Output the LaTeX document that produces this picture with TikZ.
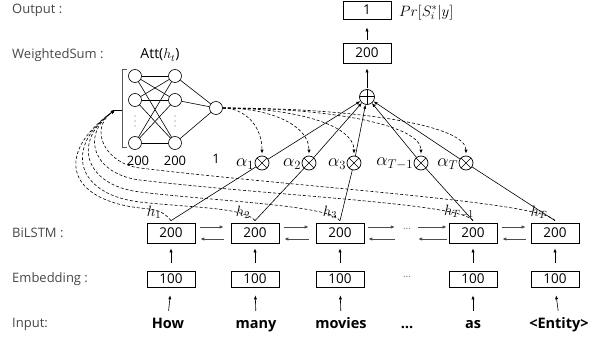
\RequirePackage{fix-cm}
\documentclass[tikz,border=0pt]{standalone}
\usepackage{fontspec}
\setmainfont{Open Sans}
\usetikzlibrary{arrows.meta}
\begin{document}
\begin{tikzpicture}[x=1pt,y=-1pt,
  lab/.style={anchor=west, inner sep=0pt, text=black!72, font=\fontsize{13}{15}\selectfont},
  box/.style={draw, line width=0.7pt, minimum width=48pt, minimum height=20pt, inner sep=0pt, font=\fontsize{13.5}{15}\selectfont},
  ebox/.style={box, minimum height=16pt},
  word/.style={inner sep=0pt, font=\fontsize{14.5}{16}\selectfont\bfseries, text height=11pt, text depth=3pt},
  neuron/.style={circle, draw, minimum size=13pt, inner sep=0pt, line width=0.6pt},
  mult/.style={circle, draw, minimum size=14pt, inner sep=0pt, line width=0.7pt,
    path picture={\draw[line width=0.7pt] (path picture bounding box.north west) -- (path picture bounding box.south east) (path picture bounding box.north east) -- (path picture bounding box.south west);}},
  plusnode/.style={circle, draw, minimum size=15pt, inner sep=0pt, line width=0.7pt,
    path picture={\draw[line width=1pt] (path picture bounding box.north) -- (path picture bounding box.south) (path picture bounding box.west) -- (path picture bounding box.east);}},
  arr/.style={-{Latex[length=4pt,width=3.2pt]}, line width=0.6pt},
  harr/.style={-{Latex[length=4pt,width=3.5pt]}, line width=0.9pt, black!70},
  dsh/.style={dash pattern=on 3pt off 2pt, line width=0.6pt},
  conn/.style={line width=0.6pt},
  mathlab/.style={inner sep=0pt, font=\fontsize{18}{20}\selectfont},
  hlab/.style={inner sep=0pt, font=\fontsize{15}{17}\selectfont},
  small/.style={inner sep=0pt, font=\fontsize{13}{15}\selectfont},
  dotsg/.style={inner sep=0pt, text=black!55, font=\fontsize{10}{12}\selectfont},
]
\useasboundingbox (0,0) rectangle (603,342);

% left labels
\node[lab] (lOut) at (12,10) {Output :};
\node[lab] (lWS) at (12,55) {WeightedSum :};
\node[lab] (lBi) at (12,233) {BiLSTM :};
\node[lab] (lEm) at (12,279) {Embedding :};
\node[lab] (lIn) at (12,324) {Input:};

% top output part
\node[box, minimum height=18pt] (t1) at (367,10) {1};
\node[box] (t200) at (367,53) {200};
\node[plusnode] (pl) at (367,97) {};
\node[inner sep=0pt, anchor=west, font=\fontsize{15}{17}\selectfont] (pr) at (399,12.5) {$Pr[S_i^*|y]$};
\draw[arr, shorten <=1pt, shorten >=5pt] (pl) -- (t200);
\draw[arr, shorten <=3pt, shorten >=8pt] (t200) -- (t1);

% attention network
\node[small, font=\fontsize{14}{16}\selectfont] (att) at (160,55) {Att($h_t$)};
\node[neuron] (n11) at (135,76) {};
\node[neuron] (n12) at (135,100) {};
\node[neuron] (n13) at (135,143) {};
\node[neuron] (n21) at (175,76) {};
\node[neuron] (n22) at (175,100) {};
\node[neuron] (n23) at (175,143) {};
\node[neuron] (no) at (216,108) {};
\foreach \x in {135,175}
  \foreach \y in {116,121,126}
    \fill[black!55] (\x,\y) circle (0.6pt);
\foreach \a in {n11,n12,n13}
  \foreach \b in {n21,n22,n23}
    \draw[conn] (\a) -- (\b);
\foreach \b in {n21,n22,n23}
  \draw[conn] (\b) -- (no);
\node[small] (c1) at (138,161) {200};
\node[small] (c2) at (175,161) {200};
\node[small] (c3) at (216,159) {1};
\draw[line width=0.9pt, black!65] (127,69) -- (122,69) -- (122,147) -- (127,147);
\coordinate (brk) at (122,110);
\coordinate (inpt) at (115,110);
\draw[conn] (brk) -- (inpt);

% multiply nodes
\node[mult] (m1) at (262,163) {};
\node[mult] (m2) at (309,163) {};
\node[mult] (m3) at (354,163) {};
\node[mult] (m4) at (421,163) {};
\node[mult] (m5) at (466,163) {};
\node[mathlab, anchor=east] (a1) at ([xshift=-0.5pt,yshift=-1pt]m1.west) {$\alpha_1$};
\node[mathlab, anchor=east] (a2) at ([xshift=-0.5pt,yshift=-1pt]m2.west) {$\alpha_2$};
\node[mathlab, anchor=east] (a3) at ([xshift=-0.5pt,yshift=-1pt]m3.west) {$\alpha_3$};
\node[mathlab, anchor=east] (a4) at ([xshift=-0.5pt,yshift=-1pt]m4.west) {$\alpha_{T-1}$};
\node[mathlab, anchor=east] (a5) at ([xshift=-0.5pt,yshift=-1pt]m5.west) {$\alpha_T$};
\foreach \m in {m1,m2,m3,m4,m5}
  \draw[arr] (\m) -- (pl);

% dashed from neuron to multipliers
\draw[dsh, arr, shorten >=2pt] (no.east) .. controls (244,108) and (262,125) .. (m1.north);
\draw[dsh, arr, shorten >=2pt] (no.east) .. controls (270,108) and (309,125) .. (m2.north);
\draw[dsh, arr, shorten >=2pt] (no.east) .. controls (295,108) and (354,125) .. (m3.north);
\draw[dsh, arr, shorten >=2pt] (no.east) .. controls (331,108) and (421,125) .. (m4.north);
\draw[dsh, arr, shorten >=2pt] (no.east) .. controls (356,108) and (466,125) .. (m5.north);

% BiLSTM boxes
\node[box] (b1) at (171,233) {200};
\node[box] (b2) at (255,233) {200};
\node[box] (b3) at (340,233) {200};
\node[box] (b4) at (473,233) {200};
\node[box] (b5) at (555,233) {200};
\node[dotsg] (bd) at (407,229) {…};

% embedding boxes
\node[ebox] (e1) at (171,279) {100};
\node[ebox] (e2) at (255,279) {100};
\node[ebox] (e3) at (340,279) {100};
\node[ebox] (e4) at (473,279) {100};
\node[ebox] (e5) at (555,279) {100};
\node[dotsg] (ed) at (407,277) {…};

% words
\node[word] (w1) at (168,324) {How};
\node[word] (w2) at (256,324) {many};
\node[word] (w3) at (341,324) {movies};
\node[word] (wd) at (407,324) {…};
\node[word] (w4) at (473,324) {as};
\node[word] (w5) at (559,324) {<Entity>};

\foreach \i in {1,...,5} {
  \draw[arr, shorten <=8pt, shorten >=5pt] (e\i.north) -- (b\i.south);
  \draw[arr, shorten <=6pt, shorten >=8pt] (w\i.north) -- (e\i.south);
}

% horizontal BiLSTM arrows
\draw[harr] ([xshift=5pt,yshift=6pt]b1.east) -- ([xshift=-7pt,yshift=6pt]b2.west);
\draw[harr] ([xshift=-7pt,yshift=-6pt]b2.west) -- ([xshift=5pt,yshift=-6pt]b1.east);
\draw[harr] ([xshift=5pt,yshift=6pt]b2.east) -- ([xshift=-7pt,yshift=6pt]b3.west);
\draw[harr] ([xshift=-7pt,yshift=-6pt]b3.west) -- ([xshift=5pt,yshift=-6pt]b2.east);
\draw[harr] ([xshift=4pt,yshift=6pt]b3.east) -- ([xshift=-8pt,yshift=2pt]bd.west);
\draw[harr] ([xshift=-8pt,yshift=-10pt]bd.west) -- ([xshift=4pt,yshift=-6pt]b3.east);
\draw[harr] ([xshift=7pt,yshift=2pt]bd.east) -- ([xshift=-2pt,yshift=6pt]b4.west);
\draw[harr] ([xshift=-2pt,yshift=-6pt]b4.west) -- ([xshift=7pt,yshift=-10pt]bd.east);
\draw[harr] ([xshift=5pt,yshift=6pt]b4.east) -- ([xshift=-5pt,yshift=6pt]b5.west);
\draw[harr] ([xshift=-5pt,yshift=-6pt]b5.west) -- ([xshift=5pt,yshift=-6pt]b4.east);

% h labels
\node[hlab] (h1) at (154,212) {$h_1$};
\node[hlab] (h2) at (243,212) {$h_2$};
\node[hlab] (h3) at (330,212) {$h_3$};
\node[hlab] (h4) at (459,212) {$h_{T-1}$};
\node[hlab] (h5) at (539,212) {$h_T$};

% solid lines from h to multipliers
\draw[conn] ([yshift=2pt]b1.north) -- (m1);
\draw[conn] ([yshift=2pt]b2.north) -- (m2);
\draw[conn] ([yshift=2pt]b3.north) -- (m3);
\draw[conn] ([yshift=2pt]b4.north) -- (m4);
\draw[conn] ([yshift=2pt]b5.north) -- (m5);

% dashed curves from h to attention input
\draw[dsh, arr] ([yshift=2pt]b1.north) .. controls (162,209) and (152.4,209.5) .. (140,208)
   .. controls (66,199.4) and (55,153.2) .. (inpt);
\draw[dsh, arr] ([yshift=2pt]b2.north) .. controls (245,207) and (186,207.5) .. (140,202)
   .. controls (76,194.6) and (63.4,147.2) .. (inpt);
\draw[dsh, arr] ([yshift=2pt]b3.north) .. controls (329,205) and (220,201.6) .. (140,192)
   .. controls (85,185.6) and (71,141.8) .. (inpt);
\draw[dsh, arr] ([yshift=2pt]b4.north) .. controls (461,203) and (273,196) .. (140,180)
   .. controls (95,174.7) and (79,136.4) .. (inpt);
\draw[dsh, arr] ([yshift=2pt]b5.north) .. controls (543,202) and (306,187.9) .. (140,168)
   .. controls (106,164) and (88,129.8) .. (inpt);
\end{tikzpicture}
\end{document}
